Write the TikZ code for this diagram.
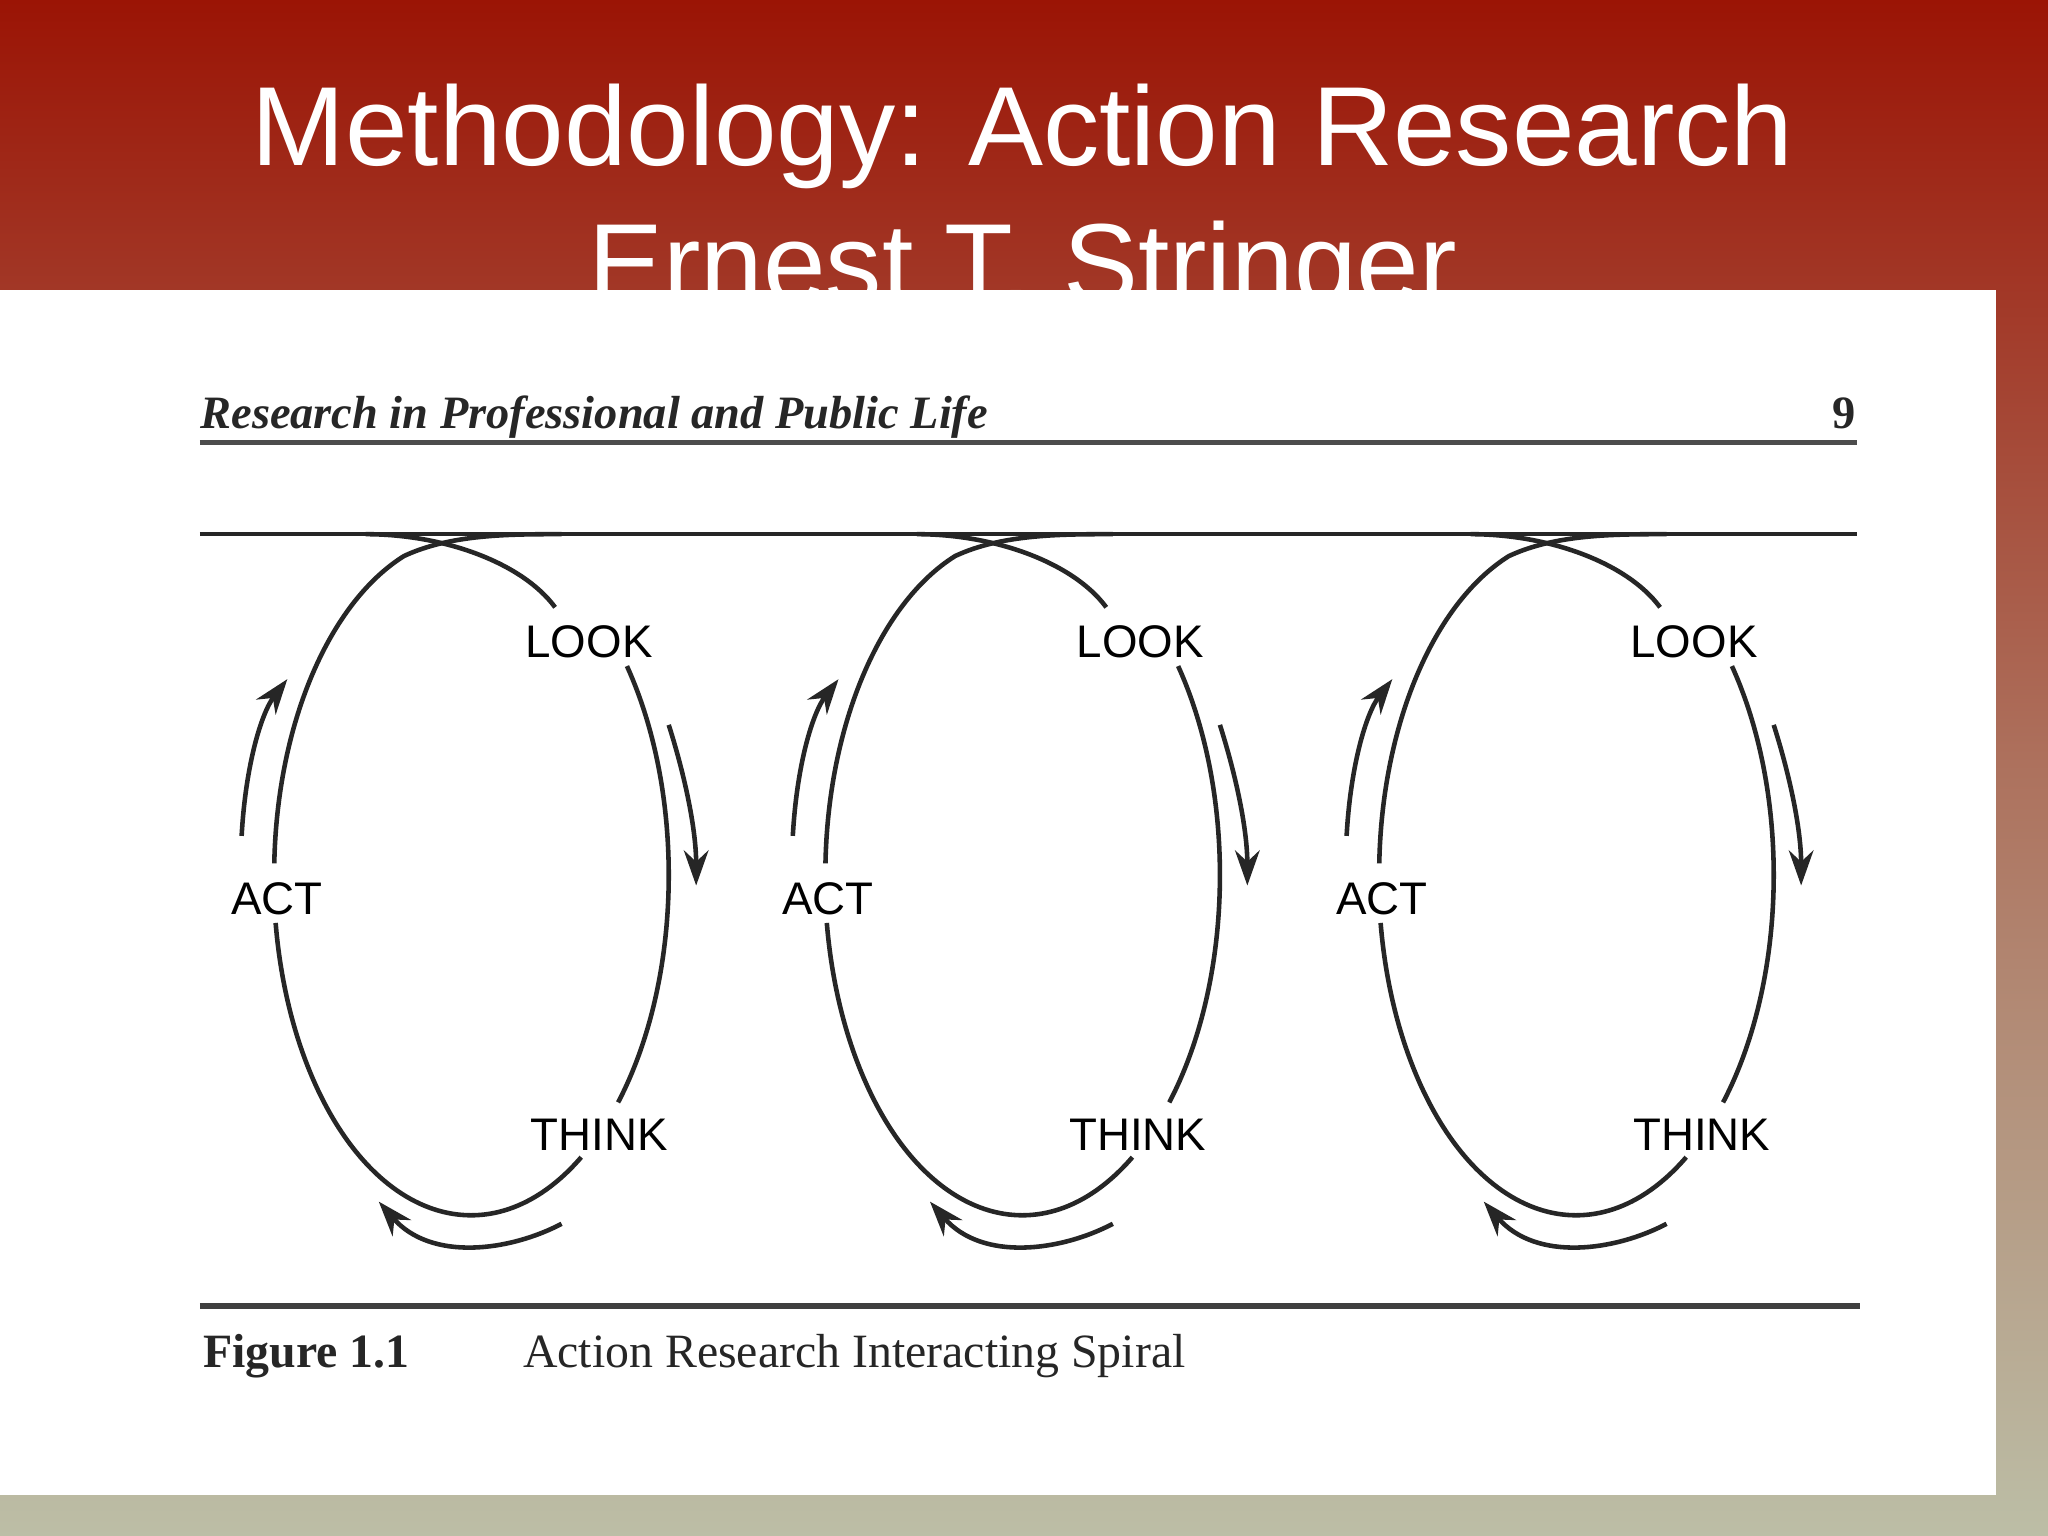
\documentclass[tikz,border=0pt]{standalone}
\usepackage{fontspec}
\setmainfont{Liberation Serif}
\newfontfamily\arial{Liberation Sans}
\usetikzlibrary{arrows.meta}
\definecolor{topred}{RGB}{155,20,5}
\definecolor{botgrey}{RGB}{188,190,166}
\tikzset{
  curve/.style={line width=1.3pt, black!85},
  arr/.style={line width=1.3pt, black!85, -{Stealth[length=10pt,width=7pt]}},
  lab/.style={font=\arial\fontsize{13}{15}\selectfont, inner sep=0pt}
}
\begin{document}
\begin{tikzpicture}[x=0.013061cm,y=0.013061cm]
\useasboundingbox (0,0) rectangle (1568,1176);
\shade[top color=topred, bottom color=botgrey, middle color=topred!45!botgrey] (0,0) rectangle (1568,1176);
\node[anchor=base, text=white, inner sep=0pt, font=\arial\fontsize{32}{34}\selectfont] (t1) at (783,1049) {Methodology: Action Research};
\node[anchor=base, text=white, inner sep=0pt, font=\arial\fontsize{32}{34}\selectfont] (t2) at (783,944) {Ernest T. Stringer};
\fill[white] (0,31) rectangle (1528,954);
% header
\node[anchor=base west, inner sep=0pt, font=\fontsize{13.2}{15}\selectfont\bfseries\itshape, text=black!85] (hd) at (153,848) {Research in Professional and Public Life};
\node[anchor=base east, inner sep=0pt, font=\fontsize{13.2}{15}\selectfont\bfseries, text=black!85] (pg) at (1421,848) {9};
\draw[line width=1.5pt, black!70] (153,837) -- (1422,837);
\draw[line width=1.5pt, black!75] (153,176) -- (1424,176);
\node[anchor=base west, inner sep=0pt, font=\fontsize{13.6}{15}\selectfont\bfseries, text=black!85] (fig) at (155,129) {Figure 1.1};
\node[anchor=base west, inner sep=0pt, font=\fontsize{13.6}{15}\selectfont, text=black!85] (cap) at (400,129) {Action Research Interacting Spiral};
% top line
\draw[curve] (153,767) -- (1422,767);
\foreach \dx/\tx in {0/0,422/-10,846/-2}{
\begin{scope}[shift={(\dx,0)}]
  \draw[curve] (280,767) .. controls (340,767) and (400,745) .. (425,711);
  \draw[curve] (210,515) arc[start angle=178, end angle=110, x radius=151, y radius=260]
     .. controls (345,767) and (390,767) .. (430,767);
  \draw[curve] (480,666) arc[start angle=38, end angle=-42, x radius=151, y radius=260];
  \draw[curve] (445,290) arc[start angle=-56, end angle=-172, x radius=151, y radius=260];
  \node[lab] (look) at (451,685) {LOOK};
  \node[lab] (think) at (459+\tx,307) {THINK};
  \node[lab] (act) at (212,488) {ACT};
  \draw[arr] (512,621) .. controls (525,580) and (533,540) .. (533,498);
  \draw[arr] (185,536) .. controls (188,590) and (200,630) .. (220,656);
  \draw[arr] (430,239) .. controls (390,218) and (330,210) .. (290,256);
\end{scope}}
\end{tikzpicture}
\end{document}
